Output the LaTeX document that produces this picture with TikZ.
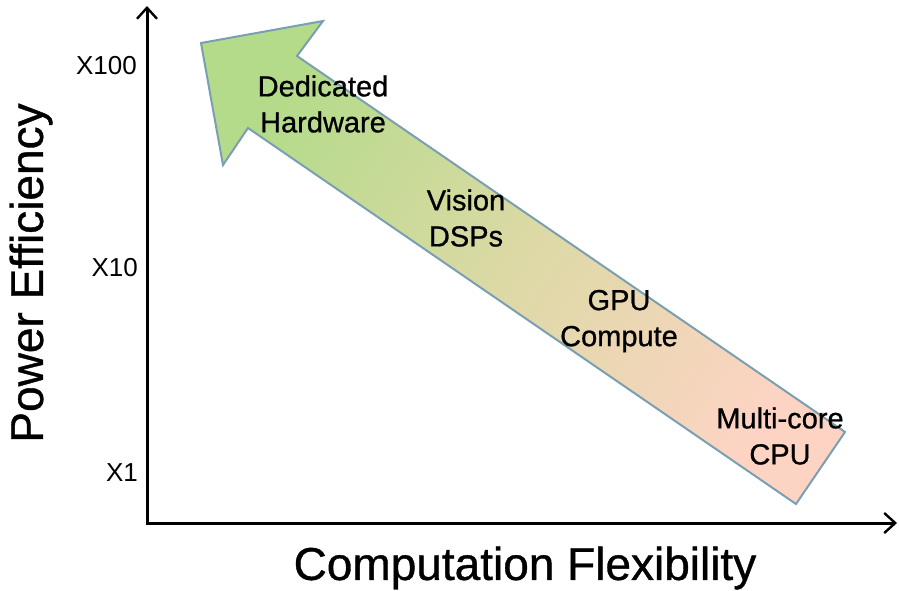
\documentclass[tikz,border=0pt]{standalone}
\usepackage{fontspec}
\setmainfont{Liberation Sans}
\newfontfamily\heavysans[FakeBold=0.8]{Liberation Sans}
\usetikzlibrary{arrows.meta}
\definecolor{headgreen}{HTML}{B4DB8A}
\definecolor{midtone}{HTML}{DDD9A6}
\definecolor{tailpeach}{HTML}{FDD4C4}
\definecolor{rimblue}{HTML}{7B9FB2}
\tikzset{
  axisline/.style={line width=3pt, -{Straight Barb[length=11pt,width=20pt,line width=2.4pt]}},
  ticklabel/.style={anchor=east, font=\fontsize{26}{30}\selectfont, inner sep=0pt},
  steplabel/.style={align=center, font=\heavysans\fontsize{29}{36}\selectfont, inner sep=0pt},
  axistitle/.style={font=\heavysans\fontsize{46}{50}\selectfont, inner sep=0pt},
  bigarrow/.style={draw=rimblue, line width=2pt, line join=miter,
    shade, shading=axis, top color=headgreen, bottom color=tailpeach,
    middle color=midtone, shading angle=55.5}
}
\begin{document}
\begin{tikzpicture}[x=1pt, y=-1pt]
  \useasboundingbox (0,0) rectangle (899,590);

  % broad arrow from general-purpose CPU up to dedicated hardware
  \draw[bigarrow] (201,43) -- (323,21) -- (297,56) -- (845,432)
    -- (796,504) -- (248,128) -- (223,165) -- cycle;

  % axes
  \coordinate (origin) at (147,523);
  \coordinate (ytop) at (147,6);
  \coordinate (xend) at (897,523);
  \draw[axisline] (origin) -- (ytop);
  \draw[axisline] ([xshift=-1.5pt]origin) -- (xend);

  % tick labels
  \node[ticklabel] (t100) at (137,66) {X100};
  \node[ticklabel] (t10)  at (138,268) {X10};
  \node[ticklabel] (t1)   at (138,473) {X1};

  % labels along the arrow
  \node[steplabel] (hw)  at (323,104) {Dedicated\\Hardware};
  \node[steplabel] (dsp) at (466,218) {Vision\\DSPs};
  \node[steplabel] (gpu) at (619,321) {GPU\\Compute};
  \node[steplabel] (cpu) at (780,436) {Multi-core\\CPU};

  % axis titles
  \node[axistitle] (xtitle) at (525,568) {Computation Flexibility};
  \node[axistitle, rotate=90] (ytitle) at (31,273) {Power Efficiency};
\end{tikzpicture}
\end{document}
